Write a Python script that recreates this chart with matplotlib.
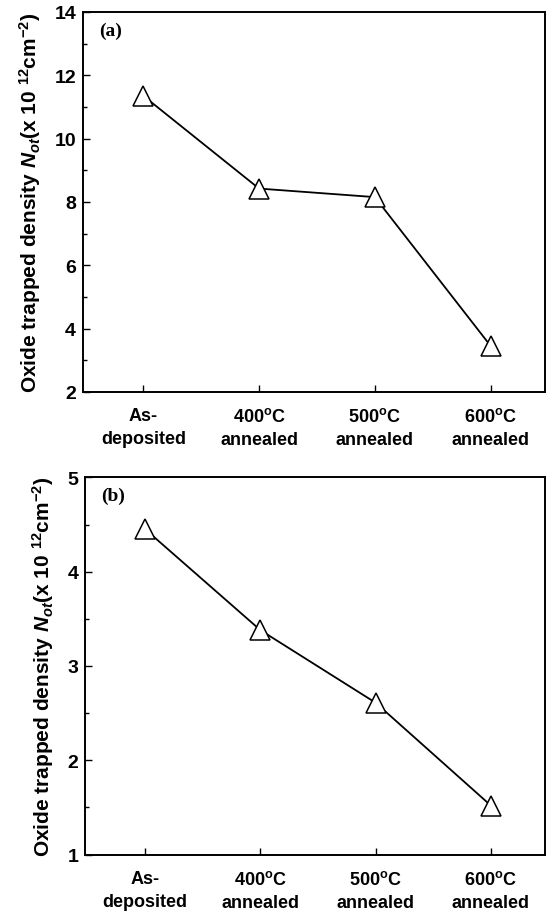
import matplotlib
matplotlib.use("Agg")
import matplotlib.pyplot as plt
from matplotlib.ticker import MultipleLocator

# data
conditions = ["As-\ndeposited", "400$^\\mathrm{o}$C\nannealed",
              "500$^\\mathrm{o}$C\nannealed", "600$^\\mathrm{o}$C\nannealed"]
not_a = [11.35, 8.42, 8.15, 3.45]
not_b = [4.45, 3.38, 2.61, 1.52]

plt.rcParams["font.family"] = ["Liberation Sans", "DejaVu Sans"]
plt.rcParams["font.weight"] = "bold"
plt.rcParams["mathtext.fontset"] = "custom"
plt.rcParams["mathtext.rm"] = "Liberation Sans:bold"
plt.rcParams["mathtext.it"] = "Liberation Sans:italic:bold"
plt.rcParams["mathtext.bf"] = "Liberation Sans:bold"

YLABEL = "Oxide trapped density $N_{ot}$(x 10 $^{12}$cm$^{-2}$)"

fig = plt.figure(figsize=(5.5, 9.2), dpi=100, facecolor="white")
ax_a = fig.add_axes([0.151, 0.573, 0.840, 0.413])
ax_b = fig.add_axes([0.155, 0.070, 0.836, 0.410])

x = list(range(len(conditions)))


def style(ax, vals, ylim, major, minor, tag):
    ax.plot(x, vals, color="black", lw=1.3, marker="^", ms=14,
            mfc="white", mec="black", mew=1.1)
    ax.set_xlim(-0.52, 3.47)
    ax.set_ylim(*ylim)
    ax.yaxis.set_major_locator(MultipleLocator(major))
    ax.yaxis.set_minor_locator(MultipleLocator(minor))
    ax.set_xticks(x)
    ax.set_xticklabels(conditions, fontsize=13, fontweight="bold", linespacing=1.45)
    ax.tick_params(axis="both", which="both", direction="in", top=False, right=False)
    ax.tick_params(axis="y", which="major", length=5, width=1, labelsize=14, pad=5)
    ax.tick_params(axis="y", which="minor", length=3, width=1)
    ax.tick_params(axis="x", which="major", length=5, width=1, pad=11)
    for lbl in ax.get_yticklabels():
        lbl.set_fontweight("bold")
    for s in ax.spines.values():
        s.set_linewidth(1.4)
    ax.set_ylabel(YLABEL, fontsize=15, fontweight="bold", labelpad=8)
    ax.text(0.035, 0.975, tag, transform=ax.transAxes, fontsize=14,
            fontweight="bold", family="Liberation Serif", va="top")


style(ax_a, not_a, (2, 14), 2, 1, "(a)")
style(ax_b, not_b, (1, 5), 1, 0.5, "(b)")

fig.savefig("out.png", dpi=100, facecolor="white")
